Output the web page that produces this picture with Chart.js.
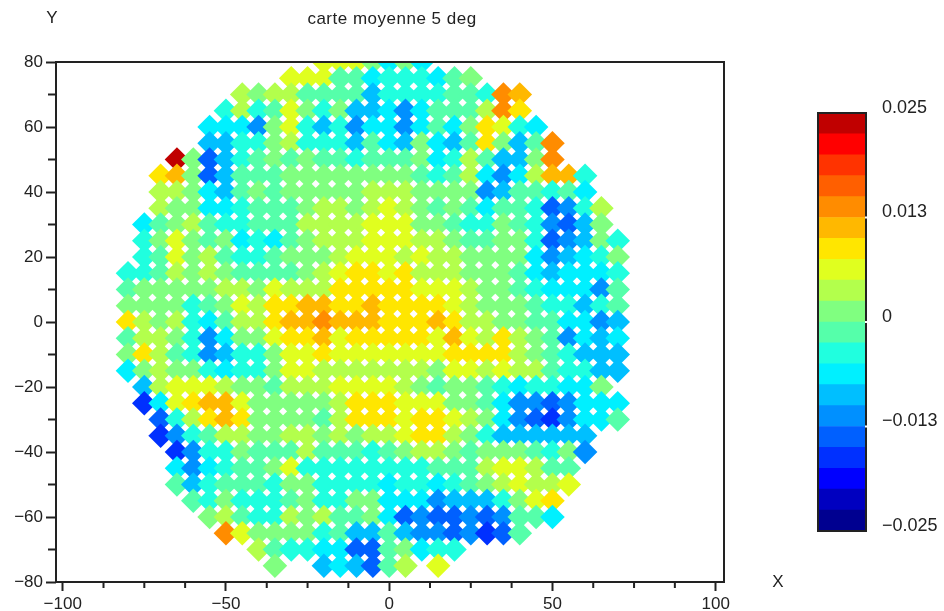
<!DOCTYPE html>
<html>
<head>
<meta charset="utf-8">
<title>carte moyenne 5 deg</title>
<script src="https://cdn.jsdelivr.net/npm/chart.js@4"></script>
<style>
  html, body { margin: 0; padding: 0; background: #fff; }
  canvas { filter: blur(0.45px); }
  #carte { position: absolute; left: 0; top: 0; }
  #barre { position: absolute; left: 800px; top: 90px; }
</style>
</head>
<body>
<canvas id="carte" width="944" height="611"></canvas>
<canvas id="barre" width="144" height="460"></canvas>
<script>
// valeurs, en millièmes. Chaque ligne commence à la longitude xDebut
const xDebut = { 80: -20, 75: -30, 70: -45, 65: -50, 60: -55, 55: -55, 50: -65, 45: -70, 40: -70, 35: -70,
  30: -75, 25: -75, 20: -75, 15: -80, 10: -80, 5: -80, 0: -80, '-5': -80, '-10': -80, '-15': -80,
  '-20': -75, '-25': -75, '-30': -70, '-35': -70, '-40': -65, '-45': -65, '-50': -65, '-55': -60,
  '-60': -55, '-65': -50, '-70': -40 };

const y80 = [6,6,6,1,-6,1,-6];
const y75 = [6,6,6,-1,-1,-6,-4,-4,-4,-6,-1,1];
const y70 = [4,1,4,4,-1,-1,-1,-1,-9,-4,-4,-4,-4,-1,-1,-4,14,11];
const y65 = [-4,4,-4,-1,6,1,-4,1,-9,-9,-6,-11,-6,-1,-1,-1,4,14,9];
const y60 = [-6,-6,-6,-11,1,6,-4,-9,-4,-11,-6,-6,-11,-6,-1,-6,1,9,6,-4,-6];
const y55 = [-9,-9,-4,-4,1,4,-4,-4,-4,-9,-1,-6,-9,1,-6,-9,-1,9,1,-9,-1,14];
const y50 = [24,1,-14,-9,-4,-1,1,-1,1,-1,-1,-4,-1,-1,-1,1,-6,-4,4,-1,-9,-9,1,14];
const y45 = [9,11,1,-14,-9,-1,-1,-1,1,1,1,1,1,1,1,1,-1,-4,-1,4,-6,-11,-6,4,11,11,-4];
const y40 = [4,4,1,-6,-9,-1,1,-1,1,1,1,1,1,4,4,4,1,1,1,1,-11,-9,-1,-1,-4,-1,-6];
const y35 = [4,1,1,-6,-6,-4,-1,-1,-1,1,4,4,1,4,6,4,1,-1,1,-1,-6,-1,-1,-4,-14,-11,-4,4];
const y30 = [-6,-1,1,4,-1,-4,-4,-1,-1,-1,4,4,4,4,6,6,6,1,1,-1,-4,-4,1,-1,-4,-11,-14,-9,1];
const y25 = [-4,1,6,1,-1,1,-6,-4,-6,-1,1,4,4,4,6,6,6,4,4,1,-1,-1,1,1,-4,-14,-11,-9,1,-4];
const y20 = [-4,-1,6,1,4,-1,-4,-4,-1,1,1,1,4,6,6,6,4,6,4,4,1,1,1,1,-6,-11,-9,-6,-4,1];
const y15 = [-4,-4,-1,4,1,4,1,-1,-1,-1,-1,1,4,6,9,9,6,9,4,4,4,1,1,1,-1,-6,-9,-6,-6,-6,-4];
const y10 = [-1,1,1,1,1,1,4,4,1,6,4,4,4,9,9,9,9,9,6,6,6,4,1,1,-1,-4,-6,-6,-6,-11,-1];
const y5 = [1,1,1,1,-4,-1,1,6,4,9,9,11,11,9,9,11,9,9,9,9,6,4,1,1,1,-1,-4,-4,-9,-4,-1];
const y0 = [9,4,1,4,-4,-6,-1,4,4,9,11,11,14,11,11,11,9,9,9,11,9,4,4,1,1,-1,-1,-6,-6,-11,-9];
const ym5 = [-1,4,4,1,-4,-11,-6,1,1,6,9,9,11,6,9,9,9,9,9,6,11,6,4,9,4,1,-1,-11,-6,-9,-6];
const ym10 = [1,9,4,-1,-4,-11,-9,-4,-4,1,6,6,9,6,6,6,6,6,6,6,9,9,9,9,4,1,-1,-4,-9,-9,-9];
const ym15 = [-6,1,4,1,1,-4,-6,-4,-4,1,6,6,4,4,4,4,4,4,4,1,6,6,4,6,4,4,-1,-4,-4,-9,-9];
const ym20 = [-9,4,6,6,6,4,1,1,-1,4,4,4,6,6,6,6,4,1,-1,1,1,-1,-4,-6,-4,-4,-6,-6,1];
const ym25 = [-16,-6,6,9,11,11,6,1,1,1,1,1,4,9,9,9,6,6,6,1,1,-1,-6,-11,-11,-14,-11,-6,-6,-6];
const ym30 = [-14,-4,4,9,11,9,1,1,1,1,-1,4,9,9,9,6,9,9,6,4,1,-6,-11,-14,-16,-11,-6,-6,-1];
const ym35 = [-16,-11,-4,-1,4,4,1,1,4,4,1,4,1,4,4,6,9,9,4,1,-4,-9,-9,-9,-9,-9,-9];
const ym40 = [-16,-11,-4,-4,1,-1,-1,-1,4,-1,-1,-1,-4,-1,1,4,4,1,-1,1,1,1,-1,-4,1,-11];
const ym45 = [-6,-11,-6,-4,-1,-1,1,6,-4,-4,-4,-4,-4,-4,-4,-4,-1,-1,-1,4,6,6,4,-1,-1];
const ym50 = [-1,-9,-4,-1,-1,-1,-4,1,1,-4,-4,-4,-4,-6,-4,-4,-6,-4,-1,1,4,6,4,4,6];
const ym55 = [-1,-4,1,-4,-4,-4,-1,1,-4,-4,1,1,-6,-6,-6,-11,-9,-9,-9,-4,1,6,9];
const ym60 = [1,4,-1,-4,-4,4,1,4,-1,-1,1,-6,-14,-11,-14,-14,-11,-14,-11,-1,-1,-6];
const ym65 = [14,6,1,1,1,1,-4,-1,-9,-9,-1,-9,-11,-11,-14,-11,-16,-14,-1];
const ym70 = [4,-1,-4,-4,-6,-6,-14,-14,-1,1,-6,-4,-4];
const ym75x = [-35,-20,-15,-10,-5,0,5,15];
const ym75 = [1,-9,-6,-9,-14,-1,4,6];

const lignes = [
  [80,y80],[75,y75],[70,y70],[65,y65],[60,y60],[55,y55],[50,y50],[45,y45],[40,y40],[35,y35],[30,y30],
  [25,y25],[20,y20],[15,y15],[10,y10],[5,y5],[0,y0],[-5,ym5],[-10,ym10],[-15,ym15],[-20,ym20],[-25,ym25],
  [-30,ym30],[-35,ym35],[-40,ym40],[-45,ym45],[-50,ym50],[-55,ym55],[-60,ym60],[-65,ym65],[-70,ym70]
];

// barre de couleurs, du bas vers le haut
const couleurs = ['#000090','#0000c0','#0000ff','#0030ff','#0060ff','#0090ff','#00bfff','#00f0ff','#20ffdf','#55ffaa',
  '#80ff80','#b3ff4c','#e0ff1f','#ffe600','#ffb800','#ff8c00','#ff5f00','#ff3300','#ff0000','#c00000'];
const ticksBarre = [-0.025, -0.0125, 0, 0.0125, 0.025];
const labelsBarre = ['\u22120.025', '\u22120.013', '0', '0.013', '0.025'];
const ticksX = [-100, -50, 0, 50, 100];
const ticksXMineurs = [-87.5, -75, -62.5, -37.5, -25, -12.5, 12.5, 25, 37.5, 62.5, 75, 87.5];
const ticksY = [-80, -60, -40, -20, 0, 20, 40, 60, 80];
const ticksYMineurs = [-70, -50, -30, -10, 10, 30, 50, 70];

const points = [];
lignes.forEach(function(l) {
  l[1].forEach(function(v, i) {
    points.push({ x: xDebut[l[0]] + i * 5, y: l[0], v: v });
  });
});
ym75.forEach(function(v, i) {
  points.push({ x: ym75x[i], y: -75, v: v });
});

function couleur(v) {
  let n = Math.floor((v + 25) / 2.5);
  return couleurs[Math.max(0, Math.min(19, n))];
}

const police = 'Liberation Sans';
const encre = '#222';

function moins(v) {
  return String(v).replace('-', '\u2212');
}

// cadre, graduations mineures, titre et noms des axes
const habillage = {
  id: 'habillage',
  afterDatasetsDraw(chart) {
    const c = chart.ctx, a = chart.chartArea;
    c.save();
    c.strokeStyle = encre;
    c.lineWidth = 2;
    c.strokeRect(a.left, a.top, a.width, a.height);
    c.beginPath();
    ticksXMineurs.forEach(function(v) {
      const px = chart.scales.x.getPixelForValue(v);
      c.moveTo(px, a.bottom); c.lineTo(px, a.bottom + 6);
    });
    ticksYMineurs.forEach(function(v) {
      const py = chart.scales.y.getPixelForValue(v);
      c.moveTo(a.left, py); c.lineTo(a.left - 8, py);
    });
    c.stroke();
    c.fillStyle = encre;
    c.font = '17px "' + police + '"';
    c.textAlign = 'center';
    c.textBaseline = 'middle';
    c.fillText('Y', 52, 18);
    c.fillText('X', 778, 582);
    c.letterSpacing = '0.5px';
    c.fillText('carte moyenne 5 deg', 392, 19);
    c.restore();
  }
};

new Chart(document.getElementById('carte'), {
  type: 'scatter',
  data: {
    datasets: [{
      data: points,
      pointStyle: 'rectRot',
      pointRadius: 12.3,
      pointBorderWidth: 0,
      pointBackgroundColor: function(ctx) { return couleur(ctx.raw.v); }
    }]
  },
  options: {
    responsive: false,
    animation: false,
    layout: { padding: { left: 0, right: 220, top: 62, bottom: 0 } },
    plugins: {
      legend: { display: false },
      tooltip: { enabled: false }
    },
    scales: {
      x: {
        min: -102.05,
        max: 102.55,
        grid: { drawOnChartArea: false, color: encre, tickLength: 9, tickWidth: 2 },
        border: { display: false },
        afterBuildTicks: function(s) { s.ticks = ticksX.map(function(v) { return { value: v }; }); },
        afterFit: function(s) { s.height = 29; s.paddingLeft = 0; s.paddingRight = 0; },
        ticks: {
          autoSkip: false, maxRotation: 0, padding: 3, color: encre,
          font: { family: police, size: 17 },
          callback: function(v) { return moins(v); }
        }
      },
      y: {
        min: -80,
        max: 80,
        grid: { drawOnChartArea: false, color: encre, tickLength: 10, tickWidth: 2 },
        border: { display: false },
        afterBuildTicks: function(s) { s.ticks = ticksY.map(function(v) { return { value: v }; }); },
        afterFit: function(s) { s.width = 56; s.paddingTop = 0; s.paddingBottom = 0; },
        ticks: {
          autoSkip: false, padding: 3, color: encre,
          font: { family: police, size: 17 },
          callback: function(v) { return moins(v); }
        }
      }
    }
  },
  plugins: [habillage]
});

const bornes = couleurs.map(function(c, i) { return [ -0.025 + i * 0.0025, -0.025 + (i + 1) * 0.0025 ]; });

const cadreBarre = {
  id: 'cadreBarre',
  afterDatasetsDraw(chart) {
    const c = chart.ctx, a = chart.chartArea;
    c.save();
    c.strokeStyle = encre;
    c.lineWidth = 2;
    c.strokeRect(a.left, a.top, a.width, a.height);
    c.fillStyle = '#fff';
    ticksBarre.slice(1, 4).forEach(function(v) {
      c.fillRect(a.right - 1, chart.scales.y.getPixelForValue(v) - 1, 2, 2);
    });
    c.restore();
  }
};

new Chart(document.getElementById('barre'), {
  type: 'bar',
  data: {
    labels: [''],
    datasets: couleurs.map(function(c, i) {
      return { data: [bornes[i]], backgroundColor: c, borderWidth: 0, barPercentage: 1, categoryPercentage: 1 };
    })
  },
  options: {
    responsive: false,
    animation: false,
    layout: { padding: { left: 18, right: 0, top: 23, bottom: 19 } },
    plugins: { legend: { display: false }, tooltip: { enabled: false } },
    scales: {
      x: { stacked: true, display: false },
      y: {
        position: 'right',
        min: -0.025,
        max: 0.025,
        grid: { display: false },
        border: { display: false },
        afterBuildTicks: function(s) { s.ticks = ticksBarre.map(function(v) { return { value: v }; }); },
        afterFit: function(s) { s.width = 78; s.paddingTop = 0; s.paddingBottom = 0; },
        ticks: {
          autoSkip: false, padding: 8, color: encre, labelOffset: -5, crossAlign: 'near',
          font: { family: police, size: 18 },
          callback: function(v) { return labelsBarre[ticksBarre.indexOf(v)]; }
        }
      }
    }
  },
  plugins: [cadreBarre]
});
</script>
</body>
</html>
